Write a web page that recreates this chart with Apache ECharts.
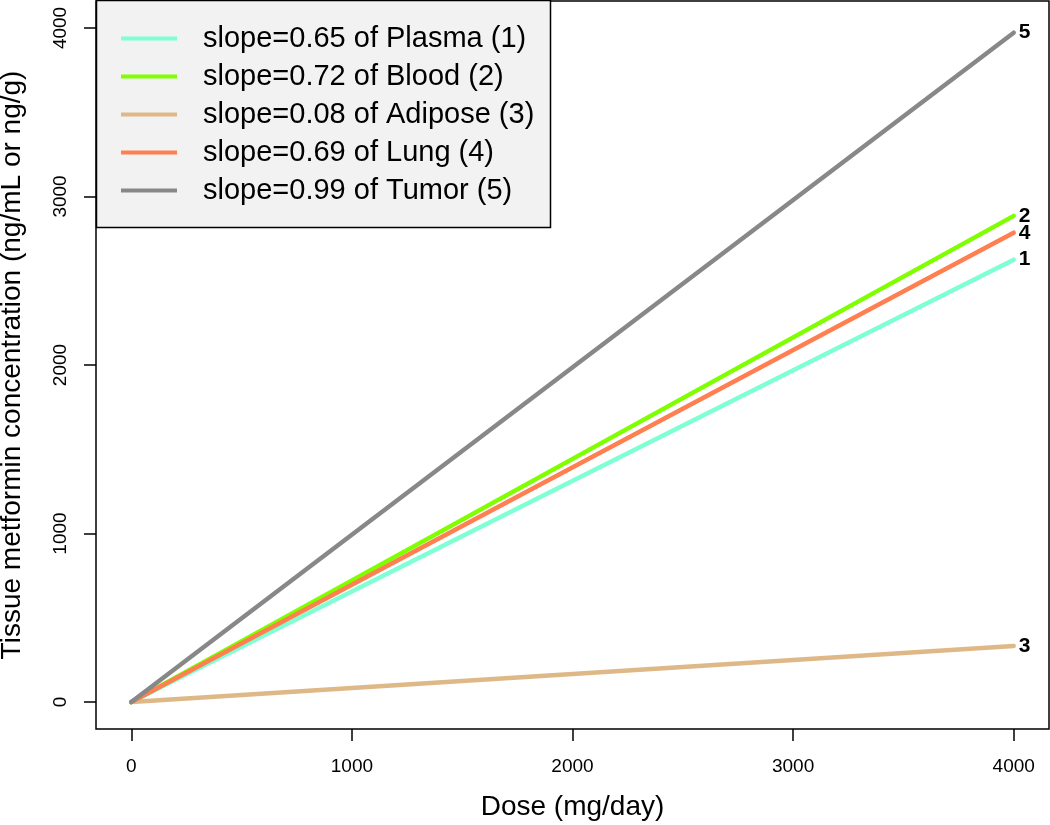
<!DOCTYPE html>
<html>
<head>
<meta charset="utf-8">
<script src="https://cdn.jsdelivr.net/npm/echarts@6/dist/echarts.min.js"></script>
<style>
html,body{margin:0;padding:0;background:#fff;}
#chart{width:1050px;height:825px;}
</style>
</head>
<body>
<div id="chart"></div>
<script>
// Data
const seriesNames = ['slope=0.65 of Plasma (1)', 'slope=0.72 of Blood (2)', 'slope=0.08 of Adipose (3)', 'slope=0.69 of Lung (4)', 'slope=0.99 of Tumor (5)'];
const endLabels = ['1', '2', '3', '4', '5'];
const doses = [0, 4000];
const plasma = [0, 2625];
const blood = [0, 2885];
const adipose = [0, 333];
const lung = [0, 2785];
const tumor = [0, 3972];
const xTicks = [0, 1000, 2000, 3000, 4000];
const yTicks = [0, 1000, 2000, 3000, 4000];
const colors = ['#7FFFD4', '#7FFF00', '#DEB887', '#FF7F50', '#888888'];

const values = [plasma, blood, adipose, lung, tumor];
const FONT = '"Liberation Sans", Arial, Helvetica, sans-serif';

const chart = echarts.init(document.getElementById('chart'), null, {renderer: 'canvas'});

const series = values.map((vals, i) => ({
  name: seriesNames[i],
  type: 'line',
  data: doses.map((d, j) => [d, vals[j]]),
  symbol: 'none',
  showSymbol: false,
  color: colors[i],
  lineStyle: {width: 4.5, color: colors[i], cap: 'round'},
  z: 3 + i,
  endLabel: {
    show: true,
    formatter: endLabels[i],
    distance: 5,
    fontFamily: FONT,
    fontWeight: 'bold',
    fontSize: 21,
    color: '#000'
  },
  animation: false
}));

chart.setOption({
  animation: false,
  textStyle: {fontFamily: FONT},
  grid: {
    left: 96, top: 1, right: 1, bottom: 96,
    outerBoundsMode: 'none',
    containLabel: false,
    show: true, borderColor: '#000', borderWidth: 1.5, backgroundColor: 'transparent'
  },
  graphic: [{
    type: 'rect',
    shape: {x: 96.5, y: 0.5, width: 454, height: 227},
    style: {fill: '#F2F2F2', stroke: '#000', lineWidth: 1.5},
    z: 10
  }],
  legend: {
    show: true,
    orient: 'vertical',
    left: 96, top: 0,
    padding: [24, 22, 23, 25],
    itemWidth: 56,
    itemHeight: 30,
    itemGap: 9,
    z: 20,
    textStyle: {fontFamily: FONT, fontSize: 29, color: '#000', padding: [0, 0, 0, 21]},
    data: seriesNames.map((n, i) => ({name: n, icon: 'path://M0,0 L56,0 L56,4 L0,4 Z', itemStyle: {color: colors[i]}}))
  },
  xAxis: {
    type: 'value',
    min: -160, max: 4160,
    name: 'Dose (mg/day)',
    nameLocation: 'middle',
    nameGap: 64,
    nameTextStyle: {fontFamily: FONT, fontSize: 28, color: '#000'},
    axisLine: {show: false, onZero: false},
    axisTick: {show: true, customValues: xTicks, length: 12, lineStyle: {color: '#000', width: 1.5}},
    axisLabel: {show: true, customValues: xTicks, margin: 28, fontFamily: FONT, fontSize: 19, color: '#000', formatter: v => String(v)},
    splitLine: {show: false}
  },
  yAxis: {
    type: 'value',
    min: -160, max: 4160,
    name: 'Tissue metformin concentration (ng/mL or ng/g)',
    nameLocation: 'middle',
    nameRotate: 90,
    nameGap: 70,
    nameTextStyle: {fontFamily: FONT, fontSize: 28, color: '#000'},
    axisLine: {show: false, onZero: false},
    axisTick: {show: true, customValues: yTicks, length: 12, lineStyle: {color: '#000', width: 1.5}},
    axisLabel: {show: true, customValues: yTicks, rotate: 90, margin: 26, fontFamily: FONT, fontSize: 19, color: '#000', formatter: v => String(v)},
    splitLine: {show: false}
  },
  series: series
});
</script>
</body>
</html>
